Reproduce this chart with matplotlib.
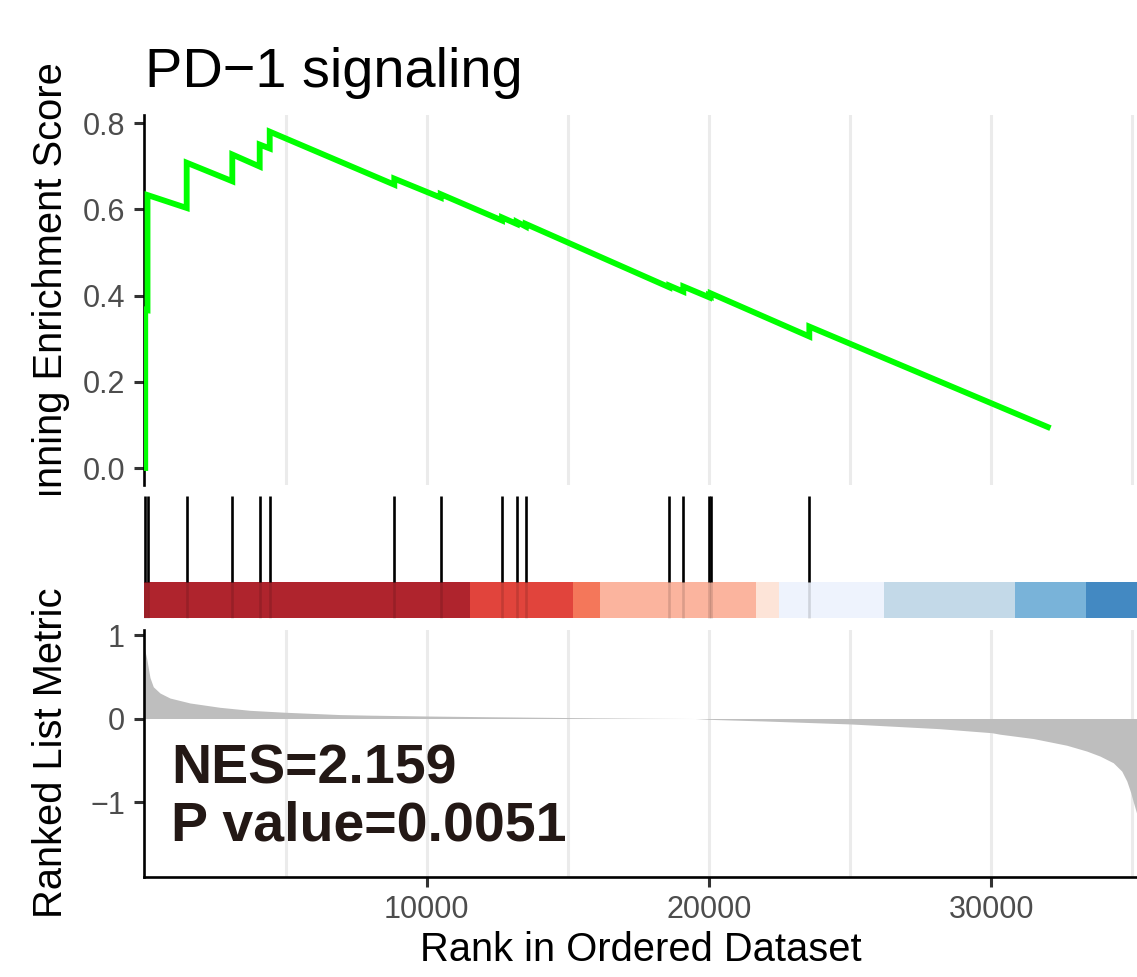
import numpy as np
import matplotlib
matplotlib.use("Agg")
import matplotlib.pyplot as plt
from matplotlib.patches import Rectangle

plt.rcParams['font.family'] = ['Liberation Sans', 'DejaVu Sans']

# running enrichment score, vertices (rank, ES)
es_rank = [0, 30, 30, 110, 110, 1498, 1498, 3114, 3114, 4084, 4084, 4439, 4439,
           8852, 8852, 10496, 10496, 12668, 12668, 13188, 13188, 13507, 13507,
           18594, 18594, 19090, 19090, 20000, 20000, 20060, 20060, 23553, 23553, 32000]
es_score = [0.0, 0.0, 0.367, 0.366, 0.633, 0.603, 0.708, 0.665, 0.727, 0.699, 0.750, 0.741, 0.780,
            0.657, 0.671, 0.627, 0.635, 0.574, 0.581, 0.566, 0.571, 0.560, 0.566,
            0.419, 0.423, 0.409, 0.421, 0.396, 0.400, 0.398, 0.405, 0.305, 0.328, 0.095]

# genes of the set in the ranked list
hits = [30, 110, 1498, 3114, 4084, 4439, 8852, 10496, 12668, 13188, 13507,
        18594, 19090, 20000, 20060, 23553]

# colour band under the hits
band_edges = [0, 11534, 15183, 16140, 21665, 22480, 26200, 30840, 33355, 35160]
band_colors = ['#AF242D', '#E1443C', '#F4775A', '#FBB49E', '#FDE4D8',
               '#EEF3FD', '#C3D9E8', '#79B3D9', '#4389C2']

# ranked list metric (rank, value)
metric_rank = [0, 40, 80, 198, 315, 553, 907, 1615, 2678, 3740, 4980, 6930, 8000, 10000,
               12000, 14000, 16000, 18000, 19500, 20000, 22000, 25000, 28180, 30014,
               30308, 31490, 32670, 33380, 33850, 34320, 34620, 34800, 34940, 35030, 35160]
metric_val = [0.85, 0.78, 0.72, 0.49, 0.38, 0.305, 0.245, 0.186, 0.134, 0.098, 0.075, 0.047,
              0.04, 0.03, 0.022, 0.015, 0.008, 0.003, 0.0, -0.01, -0.03, -0.065, -0.122, -0.17,
              -0.188, -0.24, -0.32, -0.39, -0.45, -0.53, -0.63, -0.75, -0.89, -1.0, -1.15]

title = "PD\u22121 signaling"
nes_text = "NES=2.159\nP value=0.0051"

W, H = 1137, 977
fig = plt.figure(figsize=(W / 100, H / 100), dpi=100)
left = 144.4 / W
xmax = 35160

ax1 = fig.add_axes([left, 1 - 485 / H, 1 - left, 370 / H])
ax2 = fig.add_axes([left, 1 - 620 / H, 1 - left, 133 / H])
ax3 = fig.add_axes([left, 1 - 877 / H, 1 - left, 247 / H])

grid_kw = dict(color='#EBEBEB', lw=2.2)
tick_col = '#4D4D4D'

# top panel
ax1.plot(es_rank, es_score, color='#00FF00', lw=4.2, solid_joinstyle='miter', zorder=3)
ax1.set_xlim(0, xmax)
ax1.set_ylim(-0.0394, 0.8186)
ax1.set_yticks([0.0, 0.2, 0.4, 0.6, 0.8])
ax1.set_xticks(np.arange(5000, 35001, 5000))
ax1.grid(axis='x', **grid_kw)
ax1.tick_params(axis='x', length=0, labelbottom=False)
ax1.tick_params(axis='y', length=7, width=2.2, labelsize=22, labelcolor=tick_col, color='#333333', pad=7)
for s in ['top', 'right', 'bottom']:
    ax1.spines[s].set_visible(False)
ax1.spines['left'].set_linewidth(1.9)

# middle panel
ax2.set_xlim(0, xmax)
ax2.set_ylim(0, 1)
ax2.vlines(hits, 0.286, 0.932, color='black', lw=1.9, zorder=2)
ax2.bar(band_edges[:-1], 0.271, width=np.diff(band_edges), bottom=0.015,
        align='edge', color=band_colors, lw=0, zorder=1)
ax2.vlines(hits, 0.015, 0.286, color='black', lw=1.9, alpha=0.13, zorder=2)
ax2.axis('off')

# bottom panel
ax3.fill_between(metric_rank, metric_val, 0, color='#BEBEBE', lw=0, zorder=2)
ax3.set_xlim(0, xmax)
ax3.set_ylim(-1.898, 1.06)
ax3.set_yticks([-1, 0, 1])
ax3.set_xticks([10000, 20000, 30000])
ax3.set_xticks([5000, 15000, 25000, 35000], minor=True)
ax3.grid(axis='x', which='both', **grid_kw)
ax3.tick_params(axis='both', which='major', length=7, width=2.2, labelsize=22,
                labelcolor=tick_col, color='#333333', pad=7)
ax3.tick_params(axis='x', which='major', pad=6)
ax3.tick_params(axis='x', which='minor', length=0)
for s in ['top', 'right']:
    ax3.spines[s].set_visible(False)
for s in ['left', 'bottom']:
    ax3.spines[s].set_linewidth(1.9)
ax3.set_axisbelow(True)
ax3.set_xlabel("Rank in Ordered Dataset", fontsize=28.7, labelpad=4)
ax3.text(27 / (W * (1 - left)), 0.54, nes_text, transform=ax3.transAxes, fontsize=40,
         fontweight='bold', color='#231815', va='top', ha='left', linespacing=1.12, zorder=5)

# labels / title
fig.text(62 / W, 1 - 301 / H, "Running Enrichment Score", rotation=90, rotation_mode='anchor',
         ha='center', va='baseline', fontsize=28.7, zorder=3)
fig.patches.append(Rectangle((0, 1 - 600 / H), 140 / W, 105 / H, transform=fig.transFigure,
                             facecolor='white', edgecolor='none', zorder=4))
fig.text(62 / W, 1 - 753 / H, "Ranked List Metric", rotation=90, rotation_mode='anchor',
         ha='center', va='baseline', fontsize=28.7, zorder=5)
fig.text(145 / W, 1 - 87 / H, title, fontsize=40.2, ha='left', va='baseline')

fig.savefig("out.png", dpi=100)
